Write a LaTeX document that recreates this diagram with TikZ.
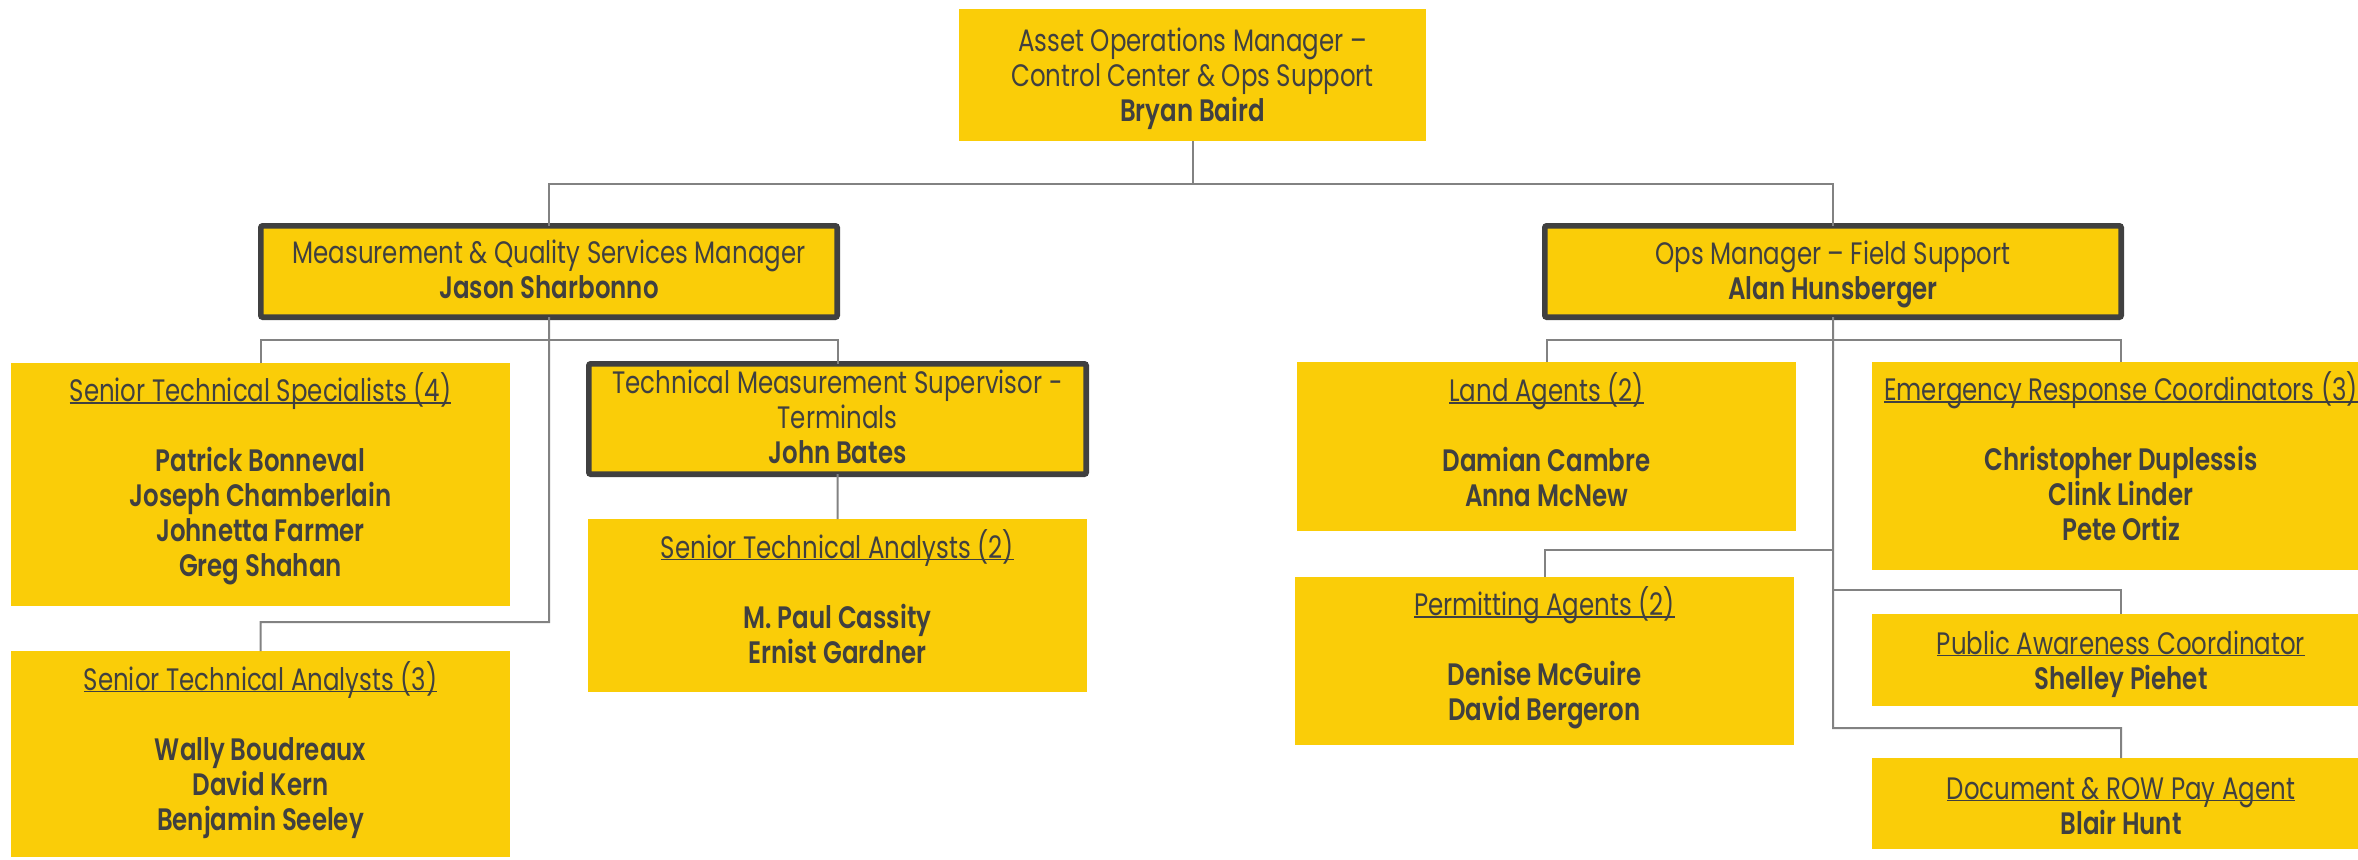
\documentclass[tikz,border=0pt]{standalone}
\usepackage{fontspec}
\setmainfont[FakeStretch=0.79, BoldFont={Poppins SemiBold}]{Poppins}
\definecolor{boxyellow}{RGB}{250,205,8}
\definecolor{textgray}{RGB}{64,64,64}
\definecolor{linegray}{RGB}{130,130,130}
\newcommand\ul[1]{\setbox0\hbox{#1}\rlap{\rule[-1pt]{\wd0}{0.7pt}}\box0}
\newcommand\lines[1]{\vtop{\baselineskip=17.5pt\lineskiplimit=-100pt\lineskip=0pt\halign{\hfil##\hfil\cr#1\crcr}}}
\tikzset{
  orgbox/.style={fill=boxyellow, draw=none, inner sep=0, outer sep=0, anchor=north west},
  mgrbox/.style={orgbox, draw=textgray, line width=2.8pt, rounded corners=1pt},
  txt/.style={inner sep=0, outer sep=0, anchor=base, text=textgray, font=\fontsize{15.5pt}{17.5pt}\selectfont},
  conn/.style={draw=linegray, line width=1pt}
}
\begin{document}
\begin{tikzpicture}[x=0.5pt, y=-0.5pt]
\useasboundingbox (0,0) rectangle (2358,859);
\clip (0,0) rectangle (2358,859);
% boxes
\node[orgbox, minimum width=233.5pt, minimum height=66pt] (top) at (959,9) {};
\node[mgrbox, minimum width=288.2pt, minimum height=45.7pt] (meas) at (260.8,225.8) {};
\node[mgrbox, minimum width=288.2pt, minimum height=45.7pt] (ops) at (1544.8,225.8) {};
\node[mgrbox, minimum width=248.7pt, minimum height=55.2pt] (super) at (588.8,363.8) {};
\node[orgbox, minimum width=249.5pt, minimum height=121.5pt] (spec) at (11,363) {};
\node[orgbox, minimum width=249.5pt, minimum height=103pt] (ana3) at (11,651) {};
\node[orgbox, minimum width=249.5pt, minimum height=86.5pt] (ana2) at (588,519) {};
\node[orgbox, minimum width=249.5pt, minimum height=84.5pt] (land) at (1297,362) {};
\node[orgbox, minimum width=249.5pt, minimum height=84pt] (perm) at (1295,577) {};
\node[orgbox, minimum width=249pt, minimum height=104pt] (erc) at (1872,362) {};
\node[orgbox, minimum width=249pt, minimum height=46pt] (pub) at (1872,614) {};
\node[orgbox, minimum width=249pt, minimum height=45.5pt] (doc) at (1872,758) {};
% junctions
\coordinate (j1) at (1192.5,184);
\coordinate (j2) at (549,340);
\coordinate (j3) at (549,622);
\coordinate (k1) at (1833,340);
\coordinate (k2) at (1833,550);
\coordinate (k3) at (1833,590);
\coordinate (k4) at (1833,728);
% connectors
\draw[conn] (top.south) -- (j1);
\draw[conn] (meas.north) |- (j1) -| (ops.north);
\draw[conn] (spec.north) |- (j2) -| (super.north);
\draw[conn] (meas.south) -- (j3) -| (ana3.north);
\draw[conn] (super.south) -- (ana2.north);
\draw[conn] (land.north) |- (k1) -| (erc.north);
\draw[conn] (ops.south) -- (k4) -| (doc.north);
\draw[conn] (k2) -| (perm.north);
\draw[conn] (k3) -| (pub.north);
% texts
\node[txt] (top-t) at (1192.5,51.7) {\lines{Asset Operations Manager –\cr Control Center \& Ops Support\cr\textbf{Bryan Baird}}};
\node[txt] (meas-t) at (549,263.3) {\lines{Measurement \& Quality Services Manager\cr\textbf{Jason Sharbonno}}};
\node[txt] (ops-t) at (1833,264) {\lines{Ops Manager – Field Support\cr\textbf{Alan Hunsberger}}};
\node[txt] (super-t) at (837.5,393.3) {\lines{Technical Measurement Supervisor -\cr Terminals\cr\textbf{John Bates}}};
\node[txt] (spec-t) at (260.5,401.7) {\lines{\ul{Senior Technical Specialists (4)}\cr\cr\textbf{Patrick Bonneval}\cr\textbf{Joseph Chamberlain}\cr\textbf{Johnetta Farmer}\cr\textbf{Greg Shahan}}};
\node[txt] (ana3-t) at (260.5,690) {\lines{\ul{Senior Technical Analysts (3)}\cr\cr\textbf{Wally Boudreaux}\cr\textbf{David Kern}\cr\textbf{Benjamin Seeley}}};
\node[txt] (ana2-t) at (837.5,558.3) {\lines{\ul{Senior Technical Analysts (2)}\cr\cr\textbf{M. Paul Cassity}\cr\textbf{Ernist Gardner}}};
\node[txt] (land-t) at (1546.5,401.7) {\lines{\ul{Land Agents (2)}\cr\cr\textbf{Damian Cambre}\cr\textbf{Anna McNew}}};
\node[txt] (perm-t) at (1544.5,615.7) {\lines{\ul{Permitting Agents (2)}\cr\cr\textbf{Denise McGuire}\cr\textbf{David Bergeron}}};
\node[txt] (erc-t) at (2121,400.7) {\lines{\ul{Emergency Response Coordinators (3)}\cr\cr\textbf{Christopher Duplessis}\cr\textbf{Clink Linder}\cr\textbf{Pete Ortiz}}};
\node[txt] (pub-t) at (2121,654.3) {\lines{\ul{Public Awareness Coordinator}\cr\textbf{Shelley Piehet}}};
\node[txt] (doc-t) at (2121,799.3) {\lines{\ul{Document \& ROW Pay Agent}\cr\textbf{Blair Hunt}}};
\end{tikzpicture}
\end{document}
